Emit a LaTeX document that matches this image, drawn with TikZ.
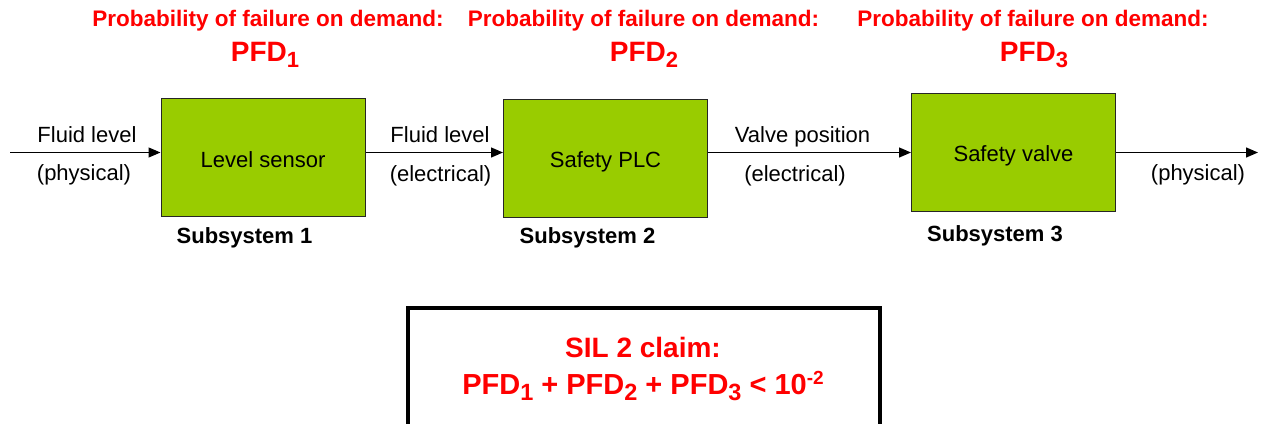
\documentclass[tikz,border=0pt]{standalone}
\usepackage{fontspec}
\setmainfont{Liberation Sans}
\usetikzlibrary{arrows.meta}
\definecolor{blockgreen}{HTML}{99CC00}
\definecolor{alarmred}{HTML}{FF0000}
% PFD with a lowered index
\newcommand\pfdsub[1]{PFD\raisebox{-6pt}{\fontsize{22}{22}\selectfont #1}}
\newcommand\pfdsum[1]{PFD\raisebox{-6.5pt}{\fontsize{23.5}{24}\selectfont #1}}

\begin{document}
\begin{tikzpicture}[x=1pt,y=-1pt,
  block/.style={draw=black!85, line width=1pt, fill=blockgreen,
    minimum width=204pt, minimum height=118pt, inner sep=0pt,
    text height=19pt, text depth=0pt, font=\fontsize{22}{26}\selectfont},
  lbl/.style={anchor=base, inner sep=0pt, font=\fontsize{22}{26}\selectfont},
  subsys/.style={anchor=base, inner sep=0pt, font=\bfseries\fontsize{22}{26}\selectfont},
  ttl/.style={anchor=base, inner sep=0pt, text=alarmred, font=\bfseries\fontsize{22.5}{26}\selectfont},
  pfd/.style={anchor=base, inner sep=0pt, text=alarmred, font=\bfseries\fontsize{28}{32}\selectfont},
  sumline/.style={pfd, font=\bfseries\fontsize{29}{32}\selectfont},
  flow/.style={line width=1.3pt, -{Triangle[length=12pt,width=10pt]}},
  claimbox/.style={draw=black, line width=4pt, minimum width=472pt, minimum height=132pt, inner sep=0pt}
]
\useasboundingbox (0,0) rectangle (1263,423);
\clip (0,0) rectangle (1263,423);

% subsystem blocks
\node[block] (b1) at (263,157.5) {Level sensor};
\node[block] (b2) at (605.5,158) {Safety PLC};
\node[block] (b3) at (1013.5,152) {Safety valve};

% signal chain
\coordinate (src) at (10,152.5);
\coordinate (dst) at (1258,152.5);
\draw[flow] (src) -- (src -| b1.west);
\draw[flow] (src -| b1.east) -- (src -| b2.west);
\draw[flow] (src -| b2.east) -- (src -| b3.west);
\draw[flow] (src -| b3.east) -- (dst);

% signal labels
\node[lbl] (l1a) at (87,142) {Fluid level};
\node[lbl] (l1b) at (84,180) {(physical)};
\node[lbl] (l2a) at (440,142) {Fluid level};
\node[lbl] (l2b) at (440.5,181) {(electrical)};
\node[lbl] (l3a) at (802.5,142) {Valve position};
\node[lbl] (l3b) at (795,181) {(electrical)};
\node[lbl] (l4b) at (1198,180) {(physical)};

% subsystem names
\node[subsys] (s1) at (244.5,243) {Subsystem 1};
\node[subsys] (s2) at (587.5,243) {Subsystem 2};
\node[subsys] (s3) at (995,241) {Subsystem 3};

% failure probabilities
\node[ttl] (t1) at (268,27) {Probability of failure on demand:};
\node[ttl] (t2) at (643.5,27) {Probability of failure on demand:};
\node[ttl] (t3) at (1033,27) {Probability of failure on demand:};
\node[pfd] (p1) at (265,61) {\pfdsub{1}};
\node[pfd] (p2) at (644,61) {\pfdsub{2}};
\node[pfd] (p3) at (1034,61) {\pfdsub{3}};

% SIL claim
\node[claimbox] (claim) at (644,374) {};
\node[pfd] (c1) at (643,357) {SIL 2 claim:};
\node[sumline] (c2) at (643,394) {\pfdsum{1} + \pfdsum{2} + \pfdsum{3} < 10\raisebox{10pt}{\fontsize{19}{19}\selectfont -2}};
\end{tikzpicture}
\end{document}
